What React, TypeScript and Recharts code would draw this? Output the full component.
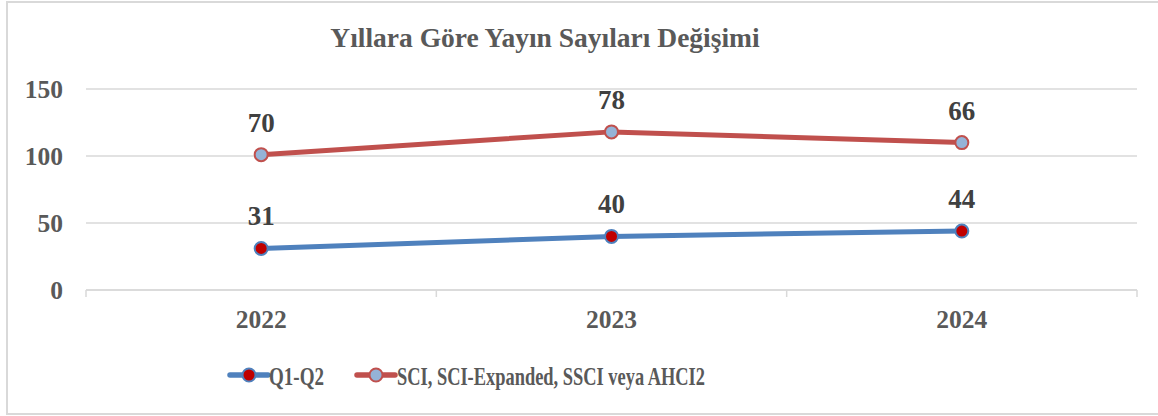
import { ComposedChart, Area, XAxis, YAxis, CartesianGrid, LabelList } from 'recharts'

const years = ['2022', '2023', '2024']
const q1q2 = [31, 40, 44]
const sciAll = [70, 78, 66]
const yTicks = [0, 50, 100, 150]

const TITLE = 'Yıllara Göre Yayın Sayıları Değişimi'
const series = [
  { key: 'q', name: 'Q1-Q2', stroke: '#4f81bd', dotFill: '#c00000' },
  { key: 'sci', name: 'SCI, SCI-Expanded, SSCI veya AHCI2', stroke: '#c0504d', dotFill: '#95b3d7' },
]

const data = years.map((y, i) => ({ year: y, q: q1q2[i], sci: sciAll[i] }))

const FONT = '"Liberation Serif", "Times New Roman", serif'
const GRID = '#d9d9d9'

function YearTick(props: any) {
  const { x, y, payload, index, visibleTicksCount } = props
  const half = payload?.offset || 175
  const axisY = y - 20
  return (
    <g>
      <line x1={x - half} x2={x - half} y1={axisY} y2={axisY + 7} stroke={GRID} strokeWidth={1.5} />
      {index === visibleTicksCount - 1 && (
        <line x1={x + half} x2={x + half} y1={axisY} y2={axisY + 7} stroke={GRID} strokeWidth={1.5} />
      )}
      <text x={x} y={y} dy="0.71em" textAnchor="middle" fill="#595959" fontFamily={FONT} fontWeight="bold" fontSize={25.5}>
        {payload.value}
      </text>
    </g>
  )
}

export default function App() {
  return (
    <div style={{ position: 'absolute', left: 0, top: 0, width: 1158, height: 416, background: '#fff', overflow: 'hidden' }}>
      <div style={{ position: 'absolute', left: 6, top: 1, width: 1170, height: 410, border: `2px solid ${GRID}` }} />
      <ComposedChart width={1158} height={416} data={data} margin={{ top: 89, right: 21, left: 0, bottom: 86 }}>
        <CartesianGrid vertical={false} stroke={GRID} strokeWidth={1.5} />
        <XAxis
          dataKey="year"
          scale="band"
          height={40}
          stroke={GRID}
          strokeWidth={1.5}
          tickLine={false}
          tickSize={0}
          tickMargin={20}
          tick={<YearTick />}
          interval={0}
        />
        <YAxis
          width={86}
          domain={[0, 150]}
          ticks={yTicks}
          axisLine={false}
          tickLine={false}
          tickSize={0}
          tickMargin={23}
          tick={{ fill: '#595959', fontFamily: FONT, fontWeight: 'bold', fontSize: 25.5 }}
        />
        {series.map((s) => (
          <Area
            key={s.key}
            type="linear"
            dataKey={s.key}
            name={s.name}
            stackId="total"
            stroke={s.stroke}
            strokeWidth={5}
            fill="none"
            fillOpacity={0}
            dot={{ r: 6.5, fill: s.dotFill, stroke: s.stroke, strokeWidth: 2, fillOpacity: 1 }}
            activeDot={false}
            isAnimationActive={false}
          >
            <LabelList
              dataKey={s.key}
              position="top"
              offset={23}
              fill="#404040"
              fontFamily={FONT}
              fontWeight="bold"
              fontSize={27}
            />
          </Area>
        ))}
      </ComposedChart>
      <svg width={1158} height={416} style={{ position: 'absolute', left: 0, top: 0, pointerEvents: 'none' }}>
        <text x={545} y={47} textAnchor="middle" fill="#595959" fontFamily={FONT} fontWeight="bold" fontSize={27.5}>
          {TITLE}
        </text>
        {series.map((s, i) => {
          const x0 = i === 0 ? 230 : 357
          const tx = i === 0 ? 269 : 397
          const tl = i === 0 ? 55 : 308
          return (
            <g key={s.key}>
              <line x1={x0} x2={x0 + 38} y1={375} y2={375} stroke={s.stroke} strokeWidth={5.5} strokeLinecap="round" />
              <circle cx={x0 + 19} cy={375} r={6.5} fill={s.dotFill} stroke={s.stroke} strokeWidth={2} />
              <text
                x={tx}
                y={385}
                fill="#595959"
                fontFamily={FONT}
                fontWeight="bold"
                fontSize={25}
                textLength={tl}
                lengthAdjust="spacingAndGlyphs"
              >
                {s.name}
              </text>
            </g>
          )
        })}
      </svg>
    </div>
  )
}
